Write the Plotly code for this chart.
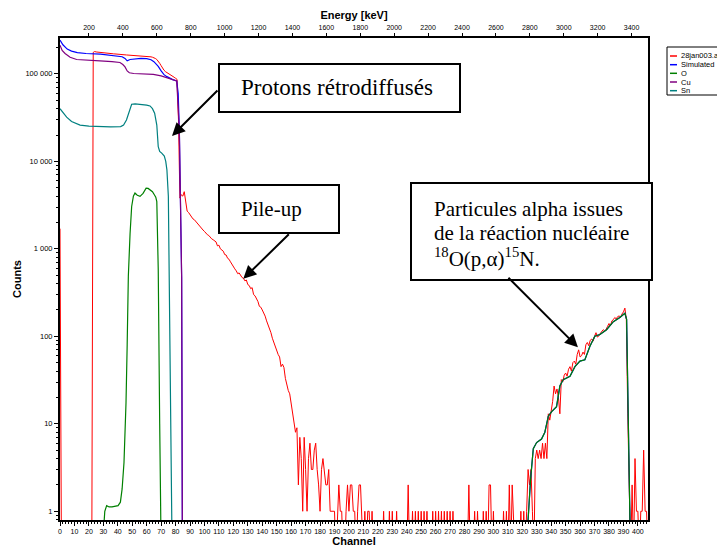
import math
import plotly.graph_objects as go

# ---------------- data ----------------
channels = list(range(408))
counts_exp = [
    1700, 0, 0, 0, 0, 0, 0, 0, 0, 0,
    0, 0, 0, 0, 0, 0, 0, 0, 0, 0,
    0, 0, 0, 176000, 180000, 178000, 177000, 176000, 175500, 175000,
    174000, 173500, 173000, 172000, 171500, 171000, 170000, 169500, 169000, 168000,
    167000, 166000, 166000, 165500, 165000, 165000, 164500, 164000, 164000, 163500,
    163000, 163000, 162500, 162000, 162000, 161500, 161000, 161000, 160500, 160000,
    160000, 159000, 158000, 156500, 155000, 153000, 150000, 146000, 140000, 132000,
    124000, 115000, 110000, 106000, 103000, 101000, 99000, 96500, 94000, 91500,
    89000, 86500, 30000, 3800, 4150, 4000, 4500, 3300, 2700, 2600,
    2450, 2300, 2200, 2150, 2050, 1950, 1850, 1800, 1700, 1640,
    1580, 1500, 1450, 1420, 1350, 1300, 1270, 1230, 1200, 1080,
    1100, 1000, 980, 940, 860, 850, 780, 760, 710, 660,
    620, 590, 560, 520, 530, 490, 470, 460, 430, 440,
    390, 380, 350, 360, 300, 290, 270, 250, 220, 215,
    200, 185, 170, 150, 135, 125, 110, 95, 85, 75,
    70, 62, 58, 45, 48, 44, 33, 28, 24, 22,
    17, 15, 11, 8, 9, 2, 7, 4, 1, 7,
    3, 1, 4, 6, 3, 3, 5, 6, 3, 2,
    1, 3, 4, 3, 2, 2, 3, 1, 1, 1,
    1, 0, 1, 2, 1, 1, 0, 0, 1, 2,
    1, 2, 2, 1, 1, 0, 1, 2, 2, 1,
    0, 1, 0, 1, 1, 0, 1, 0, 0, 0,
    0, 0, 0, 0, 1, 0, 0, 0, 1, 0,
    1, 0, 0, 1, 0, 0, 0, 0, 0, 0,
    0, 2, 0, 0, 1, 0, 1, 0, 1, 0,
    1, 0, 1, 0, 1, 0, 0, 0, 1, 0,
    1, 0, 1, 0, 1, 0, 1, 0, 1, 0,
    1, 0, 1, 0, 0, 0, 0, 0, 0, 0,
    0, 0, 0, 2, 0, 0, 0, 1, 0, 1,
    0, 0, 0, 1, 0, 1, 0, 2, 2, 0,
    1, 0, 0, 0, 0, 0, 0, 1, 0, 1,
    0, 2, 0, 2, 1, 0, 0, 0, 0, 1,
    0, 1, 0, 1, 3, 2, 3, 1, 0, 4,
    5, 4, 5, 4, 6, 4, 6, 4, 13, 11,
    14, 18, 27, 22, 25, 20, 13, 32, 30, 36,
    38, 35, 42, 45, 40, 50, 52, 48, 62, 70,
    58, 60, 66, 62, 80, 85, 78, 90, 93, 88,
    100, 110, 98, 101, 108, 112, 119, 115, 120, 130,
    140, 132, 150, 155, 164, 158, 168, 171, 165, 180,
    190, 210, 156, 13, 1, 0, 2, 0, 4, 1,
    1, 0, 1, 1, 5, 1, 1, 0,
]

sim_ch = [0, 2, 5, 8, 12, 18, 28, 38, 43, 45, 46.5, 48.5, 52, 56, 60, 63, 65, 68, 70,
          72, 74, 76, 78, 80.8, 81.8, 82.6, 83.5, 84.2, 84.7,
          200, 323, 324, 325.7, 327.6, 329.9, 333.3, 335.6, 338, 340.3, 343.7, 346,
          348.3, 353, 356.4, 359.9, 363.3, 366.8, 370.2, 373.7, 378.3, 383, 387.5,
          391, 392.2, 393.3, 394.5, 396]
sim_val = [243000, 215000, 192000, 182000, 175000, 171000, 168000, 162000, 157000,
           150000, 141000, 146000, 149000, 150000, 149000, 145000, 138000, 122000,
           108000, 98000, 93000, 89000, 86000, 83000, 60000, 23000, 3600, 470, 0.5,
           0.5, 0.5, 0.8, 2.3, 5.2, 6.1, 6.7, 8, 12.2, 13.8, 15.7, 27,
           32, 35, 45, 52, 54, 77, 100, 105, 119, 147, 164,
           183, 156, 13.4, 0.8, 0.5]

o_ch = [29.8, 31, 32.3, 34, 36, 38, 40.2, 41.8, 43, 44.3, 45.7, 46.5, 47.3, 48.5, 49.6,
        50.8, 51.9, 53.5, 55.4, 57.5, 59.6, 61, 62.3, 64, 65.3, 66.3, 67, 67.4, 68,
        69, 69.9,
        200, 323, 324, 325.7, 327.6, 329.9, 333.3, 335.6, 338, 340.3, 343.7, 346,
        348.3, 353, 356.4, 359.9, 363.3, 366.8, 370.2, 373.7, 378.3, 383, 387.5,
        391, 392.2, 393.3, 394.5, 396]
o_val = [0.5, 1.0, 1.16, 1.12, 1.12, 1.13, 1.16, 1.27, 1.8, 3.6, 17.5, 80, 486, 1500,
         3050, 4000, 4340, 4100, 3980, 4300, 4940, 4900, 4730, 4500, 4150, 3900, 3470,
         1660, 580, 10, 0.5,
         0.5, 0.5, 0.8, 2.3, 5.2, 6.1, 6.7, 8, 12.2, 13.8, 15.7, 27,
         32, 35, 45, 52, 54, 77, 100, 105, 119, 147, 164,
         183, 156, 13.4, 0.8, 0.5]

cu_ch = [0, 1.5, 3.5, 7, 11.5, 18, 27.7, 36, 41.5, 43.5, 45, 46.5, 48, 51, 56, 60, 64.6,
         70, 74, 78, 80.8, 82.6, 83.5, 84.2, 84.7]
cu_val = [213000, 185000, 171000, 155000, 146000, 143000, 141000, 138000, 135000,
          128000, 120000, 108000, 103000, 101000, 100000, 99500, 98700, 95000, 91000,
          86000, 83000, 23000, 3600, 470, 0.5]

sn_ch = [0, 2, 4.6, 8, 13.9, 20, 27.7, 35, 42, 44, 46, 48, 49.6, 52, 55.4, 60, 62.3, 64,
         65.5, 67, 68, 69, 70.4, 72.2, 73.2, 74, 75, 75.7, 76.5, 77.5]
sn_val = [40000, 36000, 32000, 28500, 26000, 25300, 25000, 24800, 25000, 26000, 29700,
          38000, 45000, 45500, 45000, 44000, 43000, 40000, 35500, 26000, 14700, 13000,
          12400, 11500, 10000, 8000, 4000, 447, 20, 0.5]

channel_ticks = list(range(0, 401, 10))
energy_ticks = list(range(200, 3401, 200))
energy_range = [29, 3497]
count_ticks = [1, 10, 100, 1000, 10000, 100000]
count_tick_text = ["1", "10", "100", "1 000", "10 000", "100 000"]

series_names = ["28jan003.a", "Simulated", "O", "Cu", "Sn"]
series_colors = ["#ff0000", "#0000ff", "#008000", "#800080", "#008080"]

# ---------------- figure ----------------
W, H = 717, 547
PL, PR, PT, PB = 60, 648, 38, 520


def pxx(x):
    return (x - PL) / (PR - PL)


def pyy(y):
    return (PB - y) / (PB - PT)


FLOOR = 0.3
exp_plot = [c if c > 0 else FLOOR for c in counts_exp]

fig = go.Figure()
# invisible trace to carry the energy axis
fig.add_trace(go.Scatter(x=[energy_ticks[0], energy_ticks[-1]], y=[1, 1], xaxis="x2",
                         mode="lines", line=dict(width=0), opacity=0,
                         hoverinfo="skip", showlegend=False))
fig.add_trace(go.Scatter(x=channels, y=exp_plot, mode="lines", name=series_names[0],
                         line=dict(color=series_colors[0], width=1)))
fig.add_trace(go.Scatter(x=sim_ch, y=sim_val, mode="lines", name=series_names[1],
                         line=dict(color=series_colors[1], width=1.2)))
fig.add_trace(go.Scatter(x=o_ch, y=o_val, mode="lines", name=series_names[2],
                         line=dict(color=series_colors[2], width=1.2)))
fig.add_trace(go.Scatter(x=cu_ch, y=cu_val, mode="lines", name=series_names[3],
                         line=dict(color=series_colors[3], width=1.2)))
fig.add_trace(go.Scatter(x=sn_ch, y=sn_val, mode="lines", name=series_names[4],
                         line=dict(color=series_colors[4], width=1.2)))

minor_y = [m * 10 ** d for d in range(-1, 6) for m in range(2, 10)]

fig.update_layout(
    width=W, height=H,
    margin=dict(l=PL, r=W - PR, t=PT, b=H - PB, autoexpand=False),
    plot_bgcolor="white", paper_bgcolor="white",
    showlegend=False,
    font=dict(family="Liberation Sans, Arial, sans-serif", size=8, color="black"),
    xaxis=dict(range=[0, 407], tickvals=channel_ticks, ticks="outside", ticklen=4,
               tickwidth=1, tickcolor="black", showline=True, linewidth=2,
               linecolor="black", mirror=True, showgrid=False, zeroline=False,
               tickfont=dict(size=7), ticklabelstandoff=0,
               minor=dict(dtick=2, ticklen=2, ticks="outside", tickcolor="black",
                          showgrid=False),
               title=dict(text="<b>Channel</b>", font=dict(size=11), standoff=2)),
    xaxis2=dict(overlaying="x", side="top", anchor="y", range=energy_range,
                tickvals=energy_ticks, ticks="outside", ticklen=3, tickwidth=1,
                tickcolor="black", showline=True, linewidth=2, linecolor="black",
                showgrid=False, zeroline=False, tickfont=dict(size=7),
                ticklabelstandoff=0,
                title=dict(text="<b>Energy [keV]</b>", font=dict(size=11), standoff=2)),
    yaxis=dict(type="log", range=[-0.1, 5.41], tickvals=count_ticks,
               ticktext=count_tick_text, ticks="outside", ticklen=4, tickwidth=1,
               tickcolor="black", showline=True, linewidth=2, linecolor="black",
               mirror=True, showgrid=False, zeroline=False, tickfont=dict(size=7.5),
               minor=dict(tickvals=minor_y, ticklen=2, ticks="outside",
                          tickcolor="black", showgrid=False),
               title=dict(text="<b>Counts</b>", font=dict(size=11), standoff=2)),
)

serif = "Liberation Serif, Times New Roman, serif"
shapes = []
annotations = []

# text boxes
boxes = [(219, 64, 460, 112), (219, 185, 339, 233), (411, 183, 652, 280)]
for x0, y0, x1, y1 in boxes:
    shapes.append(dict(type="rect", xref="paper", yref="paper",
                       x0=pxx(x0), x1=pxx(x1), y0=pyy(y1), y1=pyy(y0),
                       line=dict(color="black", width=2), fillcolor="white", layer="above"))

text_items = [
    ("Protons rétrodiffusés", 239, 88, "left", 23),
    ("Pile-up", 239, 209, "left", 21),
    ("Particules alpha issues", 432, 209, "left", 21),
    ("de la réaction nucléaire", 432, 233, "left", 21),
    ("<sup>18</sup>O(p,α)<sup>15</sup>N.", 432, 257, "left", 21),
]
for txt, x, y, al, fs in text_items:
    annotations.append(dict(text=txt, xref="paper", yref="paper", x=pxx(x), y=pyy(y),
                            xanchor=al, yanchor="middle", showarrow=False,
                            font=dict(family=serif, size=fs, color="black")))

# arrows (head at data point, tail offset in pixels)
arrows = [(77.5, 19500, 47, -47), (126.9, 454, 47, -46), (358.5, 75, -71, -71)]
for ch, val, ax, ay in arrows:
    annotations.append(dict(text="", x=ch, y=math.log10(val), xref="x", yref="y",
                            showarrow=True, ax=ax, ay=ay, arrowhead=2, arrowsize=1.3,
                            arrowwidth=2, arrowcolor="black", standoff=0))

# legend box
shapes.append(dict(type="rect", xref="paper", yref="paper", x0=pxx(667), x1=pxx(730),
                   y0=pyy(95), y1=pyy(47), line=dict(color="black", width=1)))
leg_y = [56, 64.7, 73.3, 82, 90.7]
for name, col, ly in zip(series_names, series_colors, leg_y):
    shapes.append(dict(type="line", xref="paper", yref="paper", x0=pxx(670), x1=pxx(677),
                       y0=pyy(ly), y1=pyy(ly), line=dict(color=col, width=1.5)))
    annotations.append(dict(text=name, xref="paper", yref="paper", x=pxx(679), y=pyy(ly),
                            xanchor="left", yanchor="middle", showarrow=False,
                            font=dict(size=7.5, color="black")))

fig.update_layout(shapes=shapes, annotations=annotations)
fig.write_html("out.html", config={"displayModeBar": False},
               post_script="document.body.style.margin='0';document.body.style.padding='0';")
